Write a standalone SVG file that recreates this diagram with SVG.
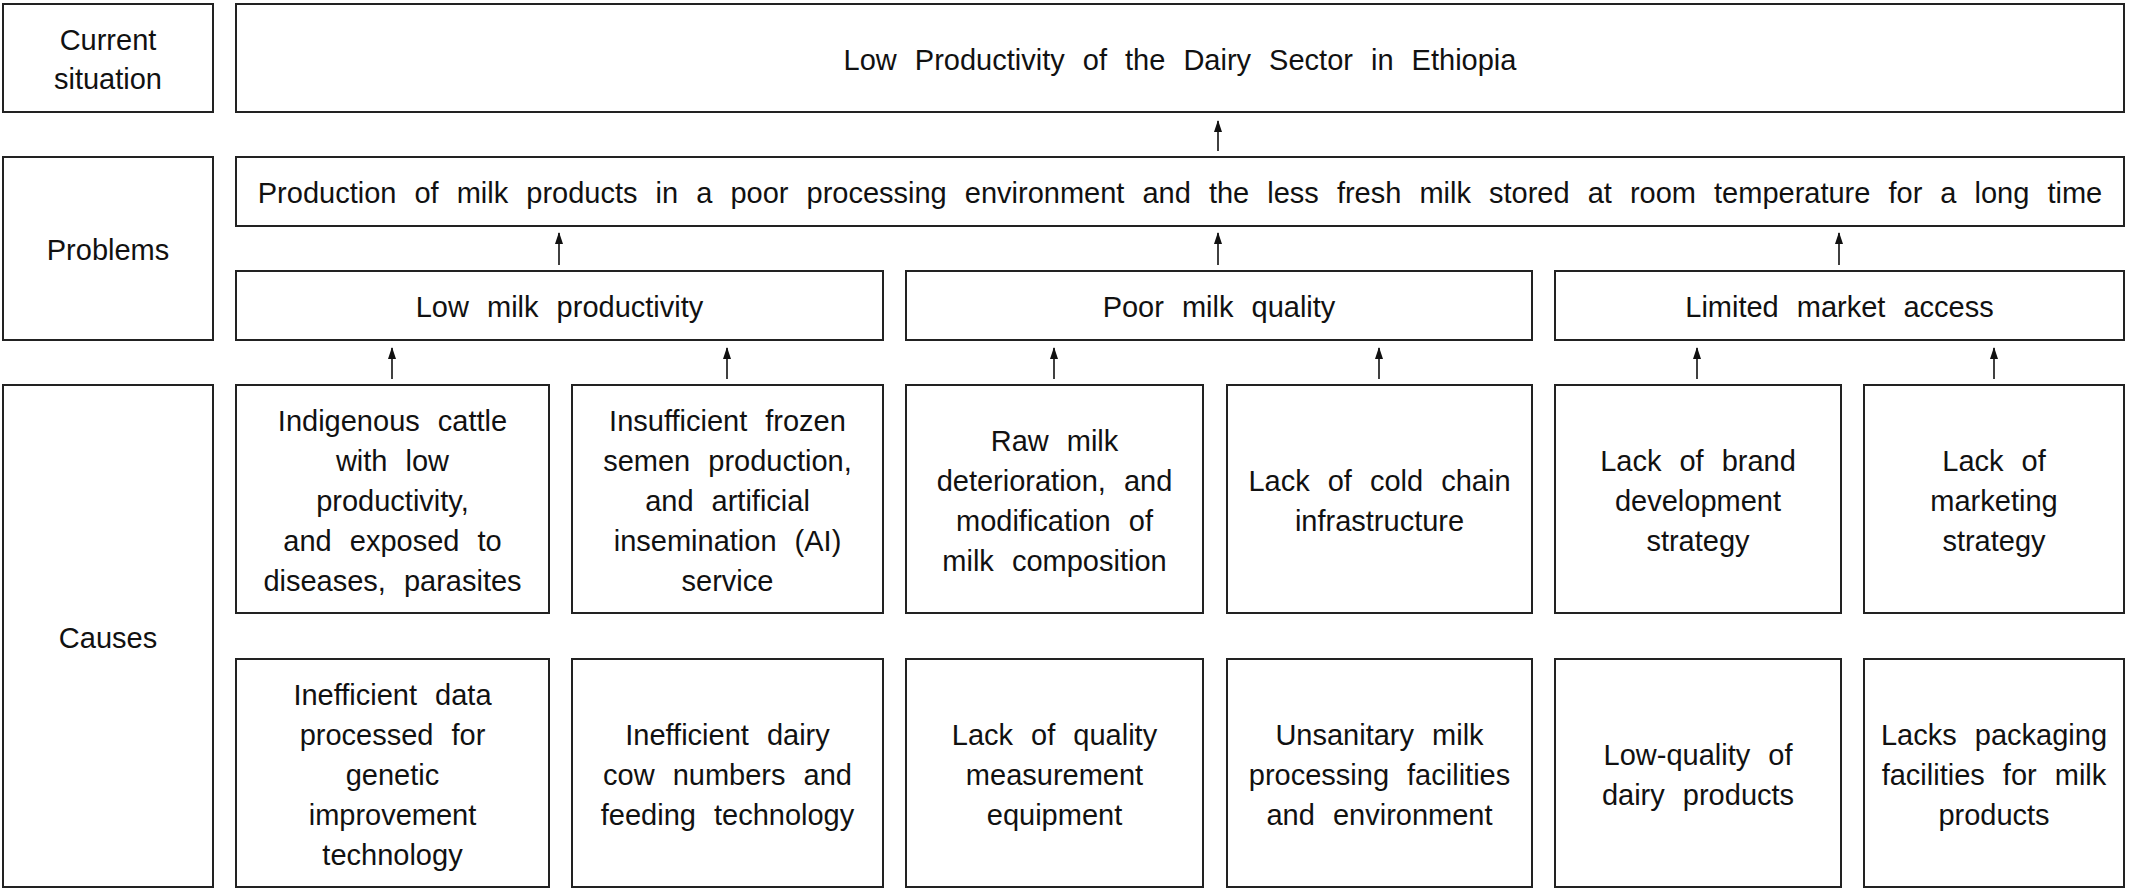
<svg xmlns="http://www.w3.org/2000/svg" width="2129" height="891" viewBox="0 0 2129 891">
<defs>
<marker id="ah" markerUnits="userSpaceOnUse" markerWidth="12" markerHeight="8" refX="11" refY="4" orient="auto-start-reverse" viewBox="0 0 12 8">
<path d="M0,0 L12,4 L0,8 Z" fill="#111"/>
</marker>
<style>
rect{fill:#fff;stroke:#222;stroke-width:2}
text{font-family:"Liberation Sans",Arial,sans-serif;font-size:29px;fill:#111;text-anchor:middle;word-spacing:10px}
.c line{stroke:#111;stroke-width:1.6;marker-start:url(#ah)}
</style>
</defs>
<rect x="0" y="0" width="2129" height="891" style="fill:#fff;stroke:none"/>
<g id="label-current"><rect x="3" y="4" width="210" height="108"/><text x="108" y="50">Current</text><text x="108" y="89">situation</text></g>
<g id="label-problems"><rect x="3" y="157" width="210" height="183"/><text x="108" y="260">Problems</text></g>
<g id="label-causes"><rect x="3" y="385" width="210" height="502"/><text x="108" y="648">Causes</text></g>
<g id="current"><rect x="236" y="4" width="1888" height="108"/><text x="1180" y="70">Low Productivity of the Dairy Sector in Ethiopia</text></g>
<g id="problem-main"><rect x="236" y="157" width="1888" height="69"/><text x="1180" y="203">Production of milk products in a poor processing environment and the less fresh milk stored at room temperature for a long time</text></g>
<g id="p1"><rect x="236" y="271" width="647" height="69"/><text x="559.5" y="317">Low milk productivity</text></g>
<g id="p2"><rect x="906" y="271" width="626" height="69"/><text x="1219" y="317">Poor milk quality</text></g>
<g id="p3"><rect x="1555" y="271" width="569" height="69"/><text x="1839.5" y="317">Limited market access</text></g>
<g id="c1"><rect x="236" y="385" width="313" height="228"/><text x="392.5" y="431">Indigenous cattle</text><text x="392.5" y="471">with low</text><text x="392.5" y="511">productivity,</text><text x="392.5" y="551">and exposed to</text><text x="392.5" y="591">diseases, parasites</text></g>
<g id="c2"><rect x="572" y="385" width="311" height="228"/><text x="727.5" y="431">Insufficient frozen</text><text x="727.5" y="471">semen production,</text><text x="727.5" y="511">and artificial</text><text x="727.5" y="551">insemination (AI)</text><text x="727.5" y="591">service</text></g>
<g id="c3"><rect x="906" y="385" width="297" height="228"/><text x="1054.5" y="451">Raw milk</text><text x="1054.5" y="491">deterioration, and</text><text x="1054.5" y="531">modification of</text><text x="1054.5" y="571">milk composition</text></g>
<g id="c4"><rect x="1227" y="385" width="305" height="228"/><text x="1379.5" y="491">Lack of cold chain</text><text x="1379.5" y="531">infrastructure</text></g>
<g id="c5"><rect x="1555" y="385" width="286" height="228"/><text x="1698" y="471">Lack of brand</text><text x="1698" y="511">development</text><text x="1698" y="551">strategy</text></g>
<g id="c6"><rect x="1864" y="385" width="260" height="228"/><text x="1994" y="471">Lack of</text><text x="1994" y="511">marketing</text><text x="1994" y="551">strategy</text></g>
<g id="d1"><rect x="236" y="659" width="313" height="228"/><text x="392.5" y="705">Inefficient data</text><text x="392.5" y="745">processed for</text><text x="392.5" y="785">genetic</text><text x="392.5" y="825">improvement</text><text x="392.5" y="865">technology</text></g>
<g id="d2"><rect x="572" y="659" width="311" height="228"/><text x="727.5" y="745">Inefficient dairy</text><text x="727.5" y="785">cow numbers and</text><text x="727.5" y="825">feeding technology</text></g>
<g id="d3"><rect x="906" y="659" width="297" height="228"/><text x="1054.5" y="745">Lack of quality</text><text x="1054.5" y="785">measurement</text><text x="1054.5" y="825">equipment</text></g>
<g id="d4"><rect x="1227" y="659" width="305" height="228"/><text x="1379.5" y="745">Unsanitary milk</text><text x="1379.5" y="785">processing facilities</text><text x="1379.5" y="825">and environment</text></g>
<g id="d5"><rect x="1555" y="659" width="286" height="228"/><text x="1698" y="765">Low-quality of</text><text x="1698" y="805">dairy products</text></g>
<g id="d6"><rect x="1864" y="659" width="260" height="228"/><text x="1994" y="745">Lacks packaging</text><text x="1994" y="785">facilities for milk</text><text x="1994" y="825">products</text></g>
<g id="connectors" class="c">
<line x1="1218" y1="121" x2="1218" y2="151"/>
<line x1="559" y1="233" x2="559" y2="265"/>
<line x1="1218" y1="233" x2="1218" y2="265"/>
<line x1="1839" y1="233" x2="1839" y2="265"/>
<line x1="392" y1="348" x2="392" y2="379"/>
<line x1="727" y1="348" x2="727" y2="379"/>
<line x1="1054" y1="348" x2="1054" y2="379"/>
<line x1="1379" y1="348" x2="1379" y2="379"/>
<line x1="1697" y1="348" x2="1697" y2="379"/>
<line x1="1994" y1="348" x2="1994" y2="379"/>
</g>
</svg>
